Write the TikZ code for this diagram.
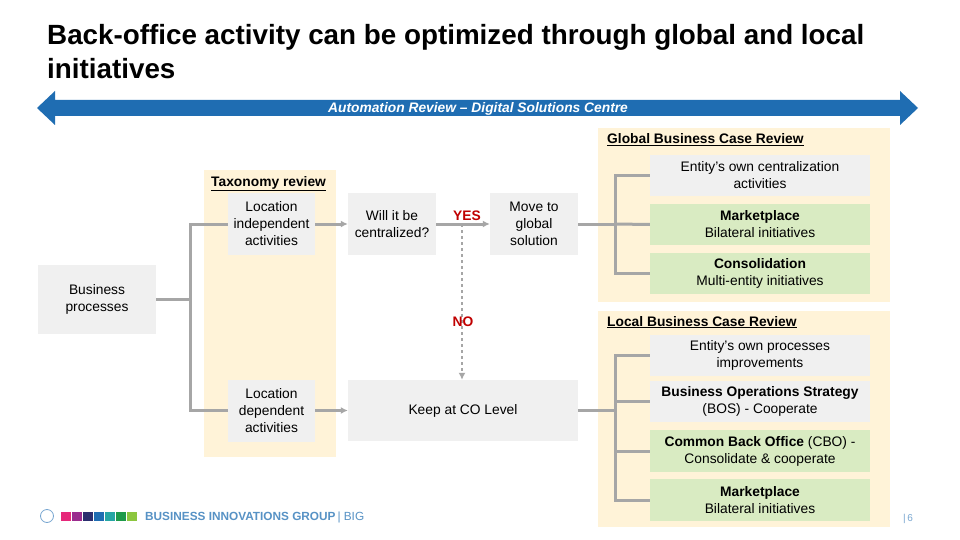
\documentclass[tikz,border=0pt]{standalone}
\usepackage{fontspec}
\setmainfont{Liberation Sans}
\usetikzlibrary{arrows.meta}
\definecolor{panel}{HTML}{FFF3D8}
\definecolor{boxg}{HTML}{F0F0F0}
\definecolor{boxgr}{HTML}{D9EBC2}
\definecolor{lineg}{HTML}{A6A6A6}
\definecolor{bluearr}{HTML}{1F6DB2}
\definecolor{redt}{HTML}{C00000}
\begin{document}
\begin{tikzpicture}[x=1pt,y=-1pt,
  body/.style={font=\fontsize{13.8}{17}\selectfont,align=center,inner sep=0},
  gbox/.style={fill=boxg,body},
  grbox/.style={fill=boxgr,body},
  conn/.style={draw=lineg,line width=3pt},
  arr/.style={conn,-{Latex[length=7pt,width=7pt]}},
  ptitle/.style={font=\fontsize{13.8}{15}\selectfont\bfseries,anchor=base west,inner sep=0}]
\useasboundingbox[fill=white] (0,0) rectangle (960,540);
% title
\node[anchor=north west,align=left,inner sep=0,font=\fontsize{27.8}{34}\selectfont\bfseries] (title) at (47,24) {Back-office activity can be optimized through global and local\\initiatives};
% blue double arrow
\fill[bluearr] (37,108) -- (55,91) -- (55,100) -- (900,100) -- (900,91) -- (918,108) -- (900,125) -- (900,116) -- (55,116) -- (55,125) -- cycle;
\node[text=white,font=\fontsize{13.8}{15}\selectfont\bfseries\itshape,inner sep=0] (auto) at (478,108.5) {Automation Review – Digital Solutions Centre};
% panels
\fill[panel] (598,128) rectangle (890,302);
\fill[panel] (598,311) rectangle (890,527);
\fill[panel] (204,170) rectangle (336,457);
\node[ptitle] (gt) at (607,144) {\underline{Global Business Case Review}};
\node[ptitle] (lt) at (607,326) {\underline{Local Business Case Review}};
\node[ptitle] (tt) at (211,186) {\underline{Taxonomy review}};
% left boxes
\node[gbox,minimum width=118,minimum height=69] (bp) at (97,299.5) {Business\\processes};
\node[gbox,minimum width=87,minimum height=62] (li) at (271.5,224) {Location\\independent\\activities};
\node[gbox,minimum width=87,minimum height=62] (ld) at (271.5,410.5) {Location\\dependent\\activities};
\node[gbox,minimum width=88,minimum height=62] (wc) at (392,224) {Will it be\\centralized?};
\node[gbox,minimum width=88,minimum height=62] (mg) at (534,224) {Move to\\global\\solution};
\node[gbox,minimum width=230,minimum height=61] (kc) at (463,410.5) {Keep at CO Level};
% right boxes
\node[gbox,minimum width=220,minimum height=41] (g1) at (760,175.5) {Entity's own centralization\\activities};
\node[grbox,minimum width=220,minimum height=41] (g2) at (760,224.5) {\textbf{Marketplace}\\Bilateral initiatives};
\node[grbox,minimum width=220,minimum height=41] (g3) at (760,273.5) {\textbf{Consolidation}\\Multi-entity initiatives};
\node[gbox,minimum width=220,minimum height=41] (l1) at (760,355.5) {Entity's own processes\\improvements};
\node[gbox,minimum width=220,minimum height=41] (l2) at (760,401.5) {\textbf{Business Operations Strategy}\\(BOS) - Cooperate};
\node[grbox,minimum width=220,minimum height=42] (l3) at (760,451) {\textbf{Common Back Office} (CBO) -\\Consolidate \& cooperate};
\node[grbox,minimum width=220,minimum height=42] (l4) at (760,500) {\textbf{Marketplace}\\Bilateral initiatives};
% connectors left
\coordinate (lb) at (190,299.5);
\draw[conn] (bp.east) -- (lb);
\draw[conn] (li.west) -| (lb) |- (ld.west);
\draw[arr] (li.east) -- (wc.west);
\draw[arr] (ld.east) -- (kc.west);
\draw[arr] (wc.east) -- (mg.west);
\draw[draw=lineg,line width=2pt,dashed,-{Latex[length=7pt,width=7pt]}] (462,224) -- (kc.north -| 462,0);
\node[text=redt,font=\fontsize{13.8}{15}\selectfont\bfseries,inner sep=0] (yes) at (467,216) {YES};
\node[text=redt,font=\fontsize{13.8}{15}\selectfont\bfseries,inner sep=0] (no) at (463,322) {NO};
% right brackets
\coordinate (gb) at (615,224);
\draw[conn] (mg.east) -- (gb);
\draw[conn] (g1.west) -| (gb) |- (g3.west);
\draw[conn] (gb) -- (g2.west);
\coordinate (lbr) at (615,410.5);
\draw[conn] (kc.east) -- (lbr);
\draw[conn] (l1.west) -| (lbr) |- (l4.west);
\draw[conn] (615,401.5) -- (l2.west);
\draw[conn] (615,451) -- (l3.west);
% footer
\node[circle,draw=bluearr!60,line width=0.8pt,minimum size=13,inner sep=0] (un) at (47,516) {};
\foreach \c [count=\i] in {E6287A,9B2C8E,2B2E6E,1F6DB2,26A6A4,1E9A4A,8CC63F}{
  \definecolor{strip}{HTML}{\c}
  \fill[strip] ({61+(\i-1)*11},512) rectangle ({71+(\i-1)*11},521);}
\node[anchor=west,inner sep=0,text=bluearr!75,font=\fontsize{11.8}{13}\selectfont\bfseries] (big) at (145,517) {BUSINESS INNOVATIONS GROUP\,\textmd{| BIG}};
\node[anchor=west,inner sep=0,text=bluearr!60,font=\fontsize{10}{11}\selectfont] (pg) at (903,519) {|\,6};
\end{tikzpicture}
\end{document}
